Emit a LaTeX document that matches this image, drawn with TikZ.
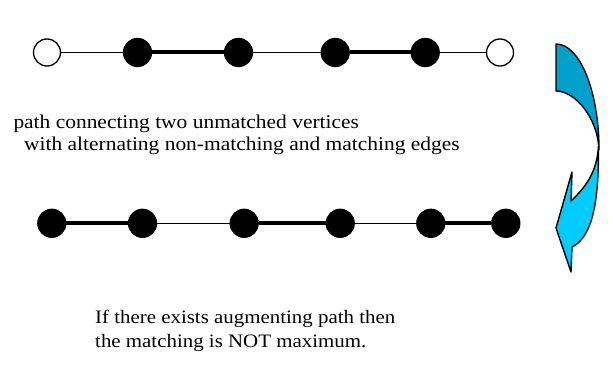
\documentclass[tikz,border=0pt]{standalone}
\usepackage{fontspec}
\setmainfont{Liberation Serif}[FakeStretch=1.1]
\definecolor{arrowback}{RGB}{0,160,204}
\definecolor{arrowfront}{RGB}{0,204,255}
\begin{document}
\begin{tikzpicture}[x=1pt,y=-1pt,
  vfull/.style={circle,draw=black,fill=black,line width=1.3pt,minimum size=28pt,inner sep=0pt},
  vopen/.style={circle,draw=black,fill=white,line width=1.3pt,minimum size=27pt,inner sep=0pt},
  free/.style={line width=1.6pt},
  matched/.style={line width=4pt},
  caption/.style={anchor=base west,inner sep=0pt,font=\fontsize{19.5}{22}\selectfont},
  remark/.style={caption,font=\fontsize{19}{22}\selectfont},
  arrowline/.style={draw=black,line width=1.4pt,line join=round}]
\useasboundingbox (0,0) rectangle (613,369);

% augmenting path: two free end vertices
\node[vopen] (a1) at (47,52.5) {};
\node[vfull] (a2) at (137.5,52.5) {};
\node[vfull] (a3) at (238.5,52.5) {};
\node[vfull] (a4) at (335.2,52.5) {};
\node[vfull] (a5) at (425.2,52.5) {};
\node[vopen] (a6) at (500,52.5) {};

% after switching the edges along the path
\node[vfull] (b1) at (51.8,223.3) {};
\node[vfull] (b2) at (142.5,223.3) {};
\node[vfull] (b3) at (244.2,223.3) {};
\node[vfull] (b4) at (340.2,223.3) {};
\node[vfull] (b5) at (430.8,223.3) {};
\node[vfull] (b6) at (505.8,223.3) {};

\draw[free] (a1) -- (a2);
\draw[matched] (a2) -- (a3);
\draw[free] (a3) -- (a4);
\draw[matched] (a4) -- (a5);
\draw[free] (a5) -- (a6);

\draw[matched] (b1) -- (b2);
\draw[free] (b2) -- (b3);
\draw[matched] (b3) -- (b4);
\draw[free] (b4) -- (b5);
\draw[matched] (b5) -- (b6);

% curved arrow: back face
\filldraw[arrowline,fill=arrowback]
  (556,44) .. controls (580,44) and (599,91.5) .. (599,150)
  .. controls (598,118) and (575,91) .. (556,91) -- cycle;
% curved arrow: front face with head
\filldraw[arrowline,fill=arrowfront]
  (598.5,146) .. controls (599,210) and (590,238) .. (572,247)
  -- (571,272) -- (556,228) -- (572,172) -- (571,201)
  .. controls (588,185) and (597,170) .. (598.5,146) -- cycle;

\node[caption] (t1) at (13.3,128.3) {path connecting two unmatched vertices};
\node[caption] (t2) at (24,150.7) {with alternating non-matching and matching edges};
\node[remark] (t3) at (95,323.5) {If there exists augmenting path then};
\node[remark] (t4) at (95,347) {the matching is NOT maximum.};
\end{tikzpicture}
\end{document}
